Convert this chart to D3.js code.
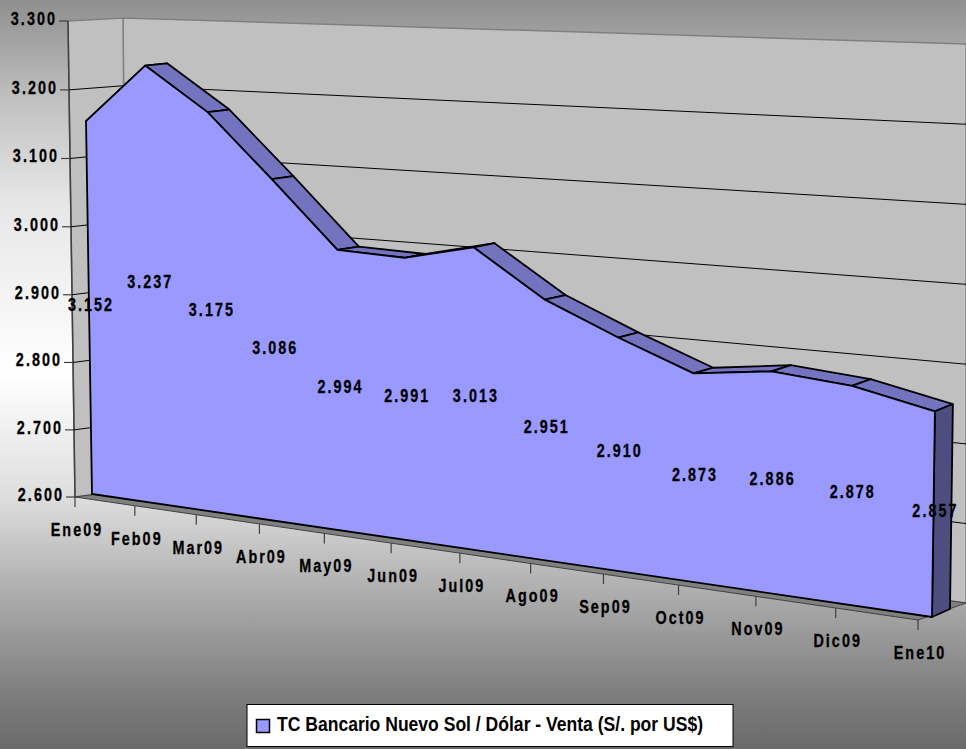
<!DOCTYPE html>
<html><head><meta charset="utf-8">
<script src="https://cdn.jsdelivr.net/npm/d3@7/dist/d3.min.js"></script>
<style>html,body{margin:0;padding:0;background:#fff}svg{display:block}
text{font-family:"Liberation Sans",Arial,sans-serif;font-weight:bold;fill:#000}</style>
</head><body><svg id="c" width="966" height="749"></svg>
<script>
const categories=["Ene09","Feb09","Mar09","Abr09","May09","Jun09","Jul09","Ago09","Sep09","Oct09","Nov09","Dic09","Ene10"];
const values=[3.152,3.237,3.175,3.086,2.994,2.991,3.013,2.951,2.910,2.873,2.886,2.878,2.857];
const yTicks=[2.6,2.7,2.8,2.9,3.0,3.1,3.2,3.3];
const seriesName="TC Bancario Nuevo Sol / Dólar - Venta (S/. por US$)";

const W=966,H=749;
const svg=d3.select("#c");
const uScale=d3.scaleLinear().domain([0,categories.length-1]).range([0,1]);
const vScale=d3.scaleLinear().domain([2.6,3.3]).range([0,1]);

// perspective mapping of a unit square on to a quad: [bottom-left, bottom-right, top-right, top-left]
function plane(q){
  const [[x0,y0],[x1,y1],[x2,y2],[x3,y3]]=q;
  const dx1=x1-x2,dx2=x3-x2,sx=x0-x1+x2-x3,dy1=y1-y2,dy2=y3-y2,sy=y0-y1+y2-y3;
  const den=dx1*dy2-dx2*dy1;
  const g=(sx*dy2-dx2*sy)/den,h=(dx1*sy-sx*dy1)/den;
  const a=x1-x0+g*x1,b=x3-x0+h*x3,d=y1-y0+g*y1,e=y3-y0+h*y3;
  return (i,v)=>{const s=uScale(i),t=vScale(v),w=g*s+h*t+1;return [(a*s+b*t+x0)/w,(d*s+e*t+y0)/w];};
}
const axisPlane=plane([[75,497],[918,620],[925,54],[68,21]]);
const frontPlane=plane([[92,494],[932,617],[940,49.5],[84.4,19.5]]);
const backPlane=plane([[114,492],[950,609],[958,43.5],[106.4,17.5]]);
const wallPlane=plane([[127,490],[966,603],[966,44],[123,18]]);
const last=categories.length-1;
const line=d3.line();
const closed=p=>line(p)+"Z";

// text squeezed horizontally, as in the reference
function label(x,y,s,anchor){
  svg.append("text").attr("transform",`translate(${x},${y}) scale(0.82,1)`)
    .attr("text-anchor",anchor).attr("dominant-baseline","central")
    .attr("font-size",17.5).attr("letter-spacing",2.5)
    .attr("stroke","#000").attr("stroke-width",0.3).text(s);
}

// background
const defs=svg.append("defs");
const grad=defs.append("linearGradient").attr("id","bg").attr("x1",0).attr("y1",0).attr("x2",0).attr("y2",1);
[[0,"#8f8f8f"],[0.133,"#c0c0c0"],[0.267,"#e6e6e6"],[0.5,"#ffffff"],[0.667,"#dddddd"],[0.8,"#aaaaaa"],[0.92,"#808080"],[1,"#6a6a6a"]]
  .forEach(([o,c])=>grad.append("stop").attr("offset",o).attr("stop-color",c));
svg.append("rect").attr("width",W).attr("height",H).attr("fill","url(#bg)");

// walls and floor
const hi=yTicks[yTicks.length-1],lo=yTicks[0];
svg.append("path").attr("d",closed([wallPlane(0,lo),wallPlane(last,lo),wallPlane(last,hi),wallPlane(0,hi)]))
  .attr("fill","#c0c0c0").attr("stroke","#808080").attr("stroke-width",1.5);
svg.append("path").attr("d",closed([axisPlane(0,lo),wallPlane(0,lo),wallPlane(0,hi),axisPlane(0,hi)]))
  .attr("fill","#c0c0c0").attr("stroke","#808080").attr("stroke-width",1.5);
svg.append("path").attr("d",line([axisPlane(0,lo),axisPlane(0,hi)])).attr("fill","none").attr("stroke","#404040").attr("stroke-width",1.5);
svg.append("path").attr("d",closed([axisPlane(0,lo),axisPlane(last,lo),wallPlane(last,lo),wallPlane(0,lo)]))
  .attr("fill","#808080").attr("stroke","#404040").attr("stroke-width",1);

// gridlines, ticks, value labels
yTicks.forEach(v=>{
  const a=axisPlane(0,v),b=wallPlane(0,v),c=wallPlane(last,v);
  if(v>lo&&v<hi) svg.append("path").attr("d",line([a,b,c])).attr("fill","none").attr("stroke","#000").attr("stroke-width",1);
  svg.append("path").attr("d",line([[a[0]-9,a[1]],a])).attr("stroke","#404040").attr("stroke-width",1.2);
  label(a[0]-11,a[1]-2,d3.format(".3f")(v),"end");
});

// category ticks and labels
categories.forEach((c,i)=>{
  const p=axisPlane(i,lo);
  svg.append("path").attr("d",line([p,[p[0],p[1]+10]])).attr("stroke","#404040").attr("stroke-width",1.2);
  label(p[0]+2,p[1]+33,c,"middle");
});

// ribbon along the top of the series
d3.pairs(d3.range(values.length)).forEach(([i,j])=>{
  svg.append("path").attr("d",closed([frontPlane(i,values[i]),frontPlane(j,values[j]),backPlane(j,values[j]),backPlane(i,values[i])]))
    .attr("fill","#7373bf").attr("stroke","#000").attr("stroke-width",1.8).attr("stroke-linejoin","round");
});
// right end of the series
svg.append("path").attr("d",closed([frontPlane(last,lo),backPlane(last,lo),backPlane(last,values[last]),frontPlane(last,values[last])]))
  .attr("fill","#4d4d80").attr("stroke","#000").attr("stroke-width",1.8).attr("stroke-linejoin","round");
// front face
const outline=[frontPlane(0,lo),...values.map((v,i)=>frontPlane(i,v)),frontPlane(last,lo)];
svg.append("path").attr("d",closed(outline)).attr("fill","#9999ff").attr("stroke","#000").attr("stroke-width",1.8).attr("stroke-linejoin","round");

// data labels, halfway up the face
values.forEach((v,i)=>{
  const p=frontPlane(i,(v+lo)/2);
  label(p[0]+2,p[1]-3.5,d3.format(".3f")(v),"middle");
});

// legend
svg.append("rect").attr("x",247).attr("y",704.5).attr("width",486).attr("height",42).attr("fill","#fff").attr("stroke","#000").attr("stroke-width",1);
svg.append("rect").attr("x",256.5).attr("y",719.5).attr("width",13).attr("height",13).attr("fill","#9999ff").attr("stroke","#000").attr("stroke-width",1.5);
svg.append("text").attr("x",277).attr("y",731).attr("font-size",20).attr("textLength",426).attr("lengthAdjust","spacingAndGlyphs").text(seriesName);
</script></body></html>
